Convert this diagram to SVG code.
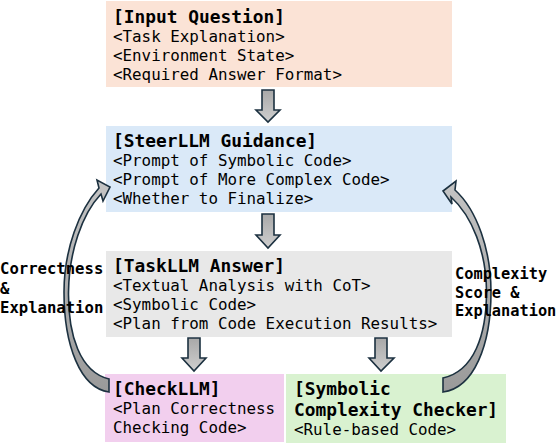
<svg xmlns="http://www.w3.org/2000/svg" width="558" height="446" viewBox="0 0 558 446">
<defs>
<linearGradient id="g" x1="0" y1="0" x2="0" y2="1">
<stop offset="0" stop-color="#a8a8a8"/>
<stop offset="1" stop-color="#cfcfcf"/>
</linearGradient>
<linearGradient id="gc" x1="0" y1="0" x2="0" y2="1">
<stop offset="0" stop-color="#c4c4c4"/>
<stop offset="1" stop-color="#9a9a9a"/>
</linearGradient>
<style>
.t{font-family:"DejaVu Sans Mono","Liberation Mono",monospace;font-size:17.85px;font-weight:bold;fill:#000}
.b{font-family:"DejaVu Sans Mono","Liberation Mono",monospace;font-size:15.85px;fill:#000}
.l{font-family:"DejaVu Sans Mono","Liberation Mono",monospace;font-size:15.6px;font-weight:bold;fill:#000}
.r{font-family:"DejaVu Sans Mono","Liberation Mono",monospace;font-size:15.3px;font-weight:bold;fill:#000}
.ar{fill:url(#g);stroke:#1c3140;stroke-width:1.6;stroke-linejoin:miter}
.ca{fill:url(#gc);stroke:#1c3140;stroke-width:1.6;stroke-linejoin:miter}
</style>
</defs>
<rect width="558" height="446" fill="#fff"/>
<g id="input">
<rect x="106" y="1" width="346" height="86" fill="#fbe3d6"/>
<text class="t" x="113" y="23">[Input Question]</text>
<text class="b" x="113" y="42">&lt;Task Explanation&gt;</text>
<text class="b" x="113" y="61">&lt;Environment State&gt;</text>
<text class="b" x="113" y="80">&lt;Required Answer Format&gt;</text>
</g>
<g id="steer">
<rect x="106" y="126" width="346" height="86" fill="#dae9f8"/>
<text class="t" x="113" y="147">[SteerLLM Guidance]</text>
<text class="b" x="113" y="166">&lt;Prompt of Symbolic Code&gt;</text>
<text class="b" x="113" y="185">&lt;Prompt of More Complex Code&gt;</text>
<text class="b" x="113" y="204">&lt;Whether to Finalize&gt;</text>
</g>
<g id="task">
<rect x="106" y="251" width="346" height="86" fill="#e8e8e8"/>
<text class="t" x="113" y="272">[TaskLLM Answer]</text>
<text class="b" x="113" y="291">&lt;Textual Analysis with CoT&gt;</text>
<text class="b" x="113" y="310">&lt;Symbolic Code&gt;</text>
<text class="b" x="113" y="329">&lt;Plan from Code Execution Results&gt;</text>
</g>
<g id="check">
<rect x="105" y="374" width="179" height="68" fill="#f2cfee"/>
<text class="t" x="113" y="395">[CheckLLM]</text>
<text class="b" x="113" y="414">&lt;Plan Correctness</text>
<text class="b" x="113" y="433">Checking Code&gt;</text>
</g>
<g id="symbolic">
<rect x="286" y="374" width="220" height="69" fill="#d9f2d0"/>
<text class="t" x="294" y="395">[Symbolic</text>
<text class="t" x="294" y="416">Complexity Checker]</text>
<text class="b" x="294" y="435">&lt;Rule-based Code&gt;</text>
</g>
<g id="connectors">
<path class="ar" d="M262,90 H274 V110 H280 L268,122 L256,110 H262 Z"/>
<path class="ar" d="M262,214 H274 V235 H280 L268,248 L256,235 H262 Z"/>
<path class="ar" d="M188,338 H200 V358 H206 L194,371 L182,358 H188 Z"/>
<path class="ar" d="M375,338 H387 V358 H394 L381,371 L369,358 H375 Z"/>
<path class="ca" d="M109,379 C80,372 68,335 68.5,292 C69,252 82,214 101,194 L103,201 L110,187 L97,180 L99,188 C79,210 64,250 64,292 C64,345 80,388 109,392 Z"/>
<path class="ca" d="M443,378 C474,371 486.5,335 486.5,292 C486.5,252 472,216 451,197 L452,204 L443,191 L456,181 L455,190 C477,210 491,250 491,292 C491,345 474,388 443,392 Z"/>
</g>
<g id="labels">
<text class="l" x="0" y="274">Correctness</text>
<text class="l" x="0" y="294">&amp;</text>
<text class="l" x="0" y="313">Explanation</text>
<text class="r" x="455" y="279">Complexity</text>
<text class="r" x="455" y="298">Score &amp;</text>
<text class="r" x="455" y="316">Explanation</text>
</g>
</svg>
